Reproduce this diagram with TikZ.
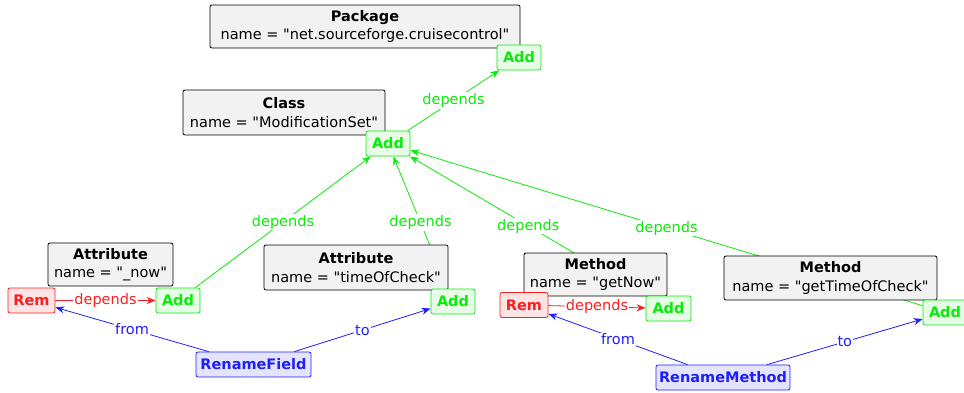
\documentclass[tikz,border=0pt]{standalone}
\usepackage{fontspec}
\setmainfont{DejaVu Sans}[Ligatures=TeXOff]
\usetikzlibrary{positioning,arrows.meta,quotes,backgrounds}
\definecolor{addg}{RGB}{10,235,10}
\definecolor{remr}{RGB}{250,30,30}
\definecolor{renb}{RGB}{30,30,250}

\begin{document}
\begin{tikzpicture}[x=1pt, y=-1pt,
font=\fontsize{14.5}{18.5}\selectfont,
elem/.style = {draw, line width=0.8pt, fill=gray!10, rounded corners=2pt, align=center, inner sep=1pt},
small/.style = {rounded corners=2pt, minimum height=25pt, inner sep=1pt, line width=0.8pt,
                font=\fontsize{14.5}{16}\selectfont\bfseries},
addbox/.style = {small, draw=addg, fill=addg!10, text=addg, minimum width=44pt},
rembox/.style = {small, draw=remr, fill=remr!12, text=remr, minimum width=47pt},
renbox/.style = {small, draw=renb, fill=renb!12, text=renb},
dep/.style = {color=addg},
rdep/.style = {color=remr},
ren/.style = {color=renb},
every edge/.style = {draw, line width=0.8pt, -{Stealth[length=9pt,width=7pt]}},
every edge quotes/.style = {fill=white, inner sep=1pt, font=\fontsize{14.5}{16}\selectfont}
                    ]
\useasboundingbox (0,0) rectangle (964,392);
% elements
\node[elem, minimum width=310pt, minimum height=43pt] (pkg) at (365,26.5)
    {\textbf{Package}\\name = "net.sourceforge.cruisecontrol"};
\node[addbox] (pkgAdd) at (519,57.5) {Add};
\node[elem, minimum width=202pt, minimum height=45pt] (cls) at (284,112.5)
    {\textbf{Class}\\name = "ModificationSet"};
\node[addbox] (clsAdd) at (388,143.5) {Add};
%
\node[elem, minimum width=125pt, minimum height=43pt] (attrNow) at (110.5,264.5)
    {\textbf{Attribute}\\name = "\_now"};
\node[rembox] (attrNowRem) at (31.5,300.5) {Rem};
\node[addbox] (attrNowAdd) at (178,300.5) {Add};
\node[elem, minimum width=184pt, minimum height=45pt] (attrChk) at (356,267.5)
    {\textbf{Attribute}\\name = "timeOfCheck"};
\node[addbox] (attrChkAdd) at (453,301.5) {Add};
\node[renbox, minimum width=115pt] (renField) at (253.5,364.5) {RenameField};
%
\node[elem, minimum width=143pt, minimum height=43pt] (methNow) at (595.5,274.5)
    {\textbf{Method}\\name = "getNow"};
\node[rembox, minimum width=48pt] (methNowRem) at (524,305) {Rem};
\node[addbox, minimum width=45pt] (methNowAdd) at (668.5,308.5) {Add};
\node[elem, minimum width=213pt, minimum height=44pt] (methChk) at (830.5,278)
    {\textbf{Method}\\name = "getTimeOfCheck"};
\node[addbox] (methChkAdd) at (945,312.5) {Add};
\node[renbox, minimum width=134pt] (renMethod) at (723,377.5) {RenameMethod};
%
\begin{scope}[on background layer]
\draw (clsAdd) edge[dep, "depends"] (pkgAdd)
      (attrNowAdd) edge[dep, "depends"] (clsAdd)
      (attrChkAdd) edge[dep, "depends"] (clsAdd)
      (methNowAdd) edge[dep, "depends"] (clsAdd)
      (methChkAdd) edge[dep, "depends"] (clsAdd);
\draw (attrNowRem) edge[rdep, "depends"] (attrNowAdd)
      (methNowRem) edge[rdep, "depends"] (methNowAdd);
\draw (renField) edge[ren, "from"] (attrNowRem)
      (renField) edge[ren, "to"] (attrChkAdd)
      (renMethod) edge[ren, "from"] (methNowRem)
      (renMethod) edge[ren, "to"] (methChkAdd);
\end{scope}
\end{tikzpicture}
\end{document}
